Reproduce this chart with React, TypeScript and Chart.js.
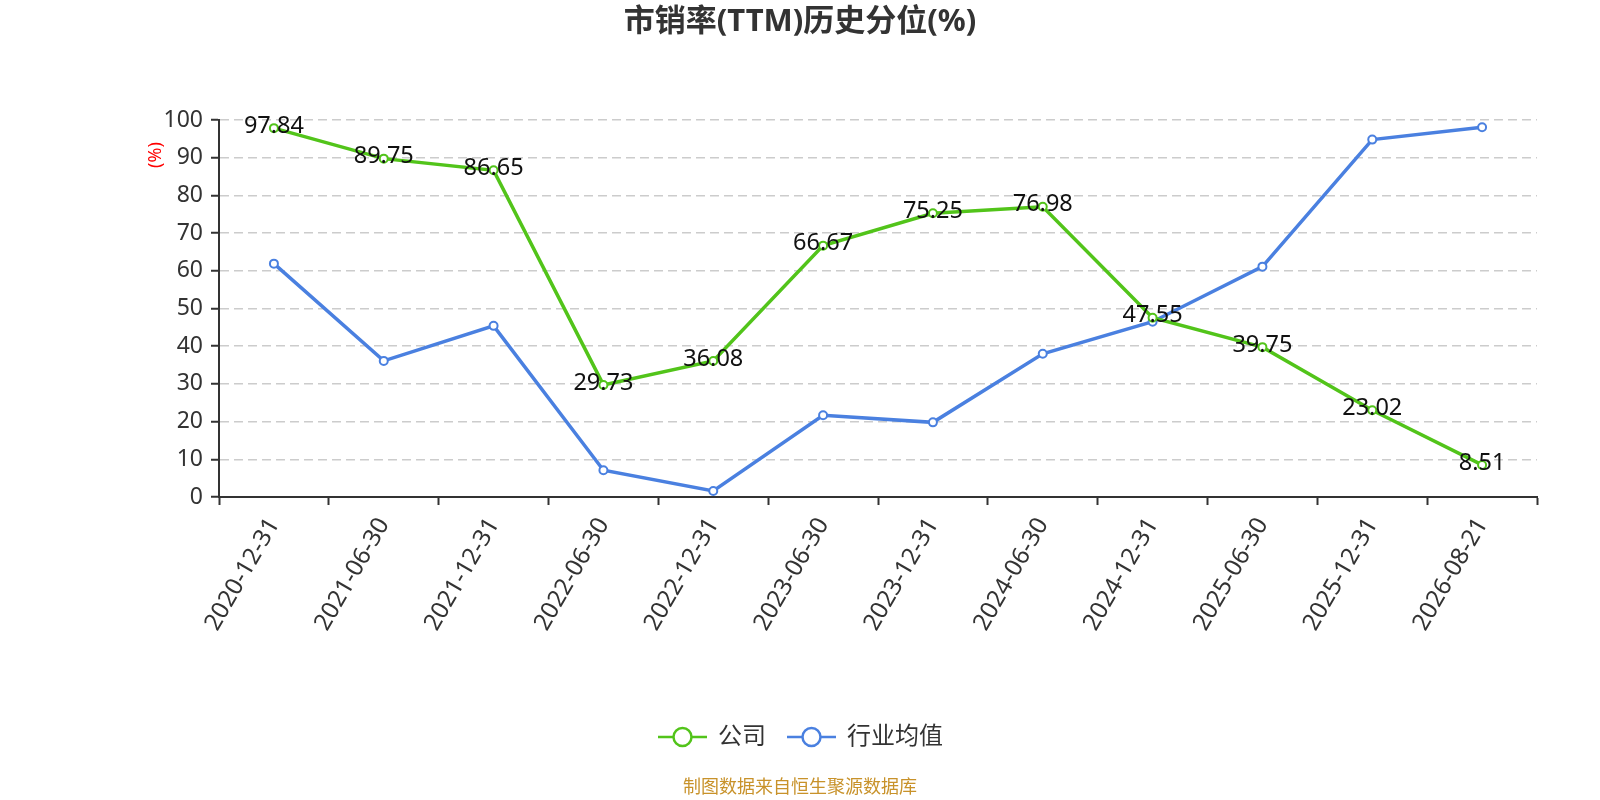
import React, { useEffect, useRef } from "react";
import { Chart, registerables } from "chart.js";

Chart.register(...registerables);

const categories = [
  "2020-12-31", "2021-06-30", "2021-12-31", "2022-06-30", "2022-12-31", "2023-06-30",
  "2023-12-31", "2024-06-30", "2024-12-31", "2025-06-30", "2025-12-31", "2026-08-21",
];
const companyValues = [97.84, 89.75, 86.65, 29.73, 36.08, 66.67, 75.25, 76.98, 47.55, 39.75, 23.02, 8.51];
const industryValues = [61.9, 36.1, 45.4, 7.1, 1.6, 21.7, 19.8, 38.0, 46.5, 61.1, 94.8, 98.1];
const seriesNames = ["公司", "行业均值"];
const titleText = "市销率(TTM)历史分位(%)";
const yAxisName = "(%)";
const sourceText = "制图数据来自恒生聚源数据库";

const GREEN = "#52c41a";
const BLUE = "#4a80e0";
const FONT = "'Noto Sans', 'Noto Sans CJK SC', sans-serif";

const decorPlugin = {
  id: "decor",
  afterDatasetsDraw(chart: any) {
    const ctx = chart.ctx;
    const meta = chart.getDatasetMeta(0);
    ctx.save();
    ctx.font = `23.5px ${FONT}`;
    ctx.fillStyle = "#111";
    ctx.textAlign = "center";
    ctx.textBaseline = "middle";
    meta.data.forEach((pt: any, i: number) => {
      ctx.fillText(companyValues[i].toFixed(2), pt.x, pt.y - 2);
    });
    ctx.restore();
  },
  afterDraw(chart: any) {
    const ctx = chart.ctx;
    ctx.save();
    // title
    ctx.font = `bold 31px ${FONT}`;
    ctx.fillStyle = "#333";
    ctx.textAlign = "center";
    ctx.textBaseline = "middle";
    ctx.fillText(titleText, 800, 22);
    // y axis name
    ctx.save();
    ctx.translate(156, 155);
    ctx.rotate(-Math.PI / 2);
    ctx.font = `18px ${FONT}`;
    ctx.fillStyle = "#ff0000";
    ctx.fillText(yAxisName, 0, 0);
    ctx.restore();
    // legend
    const items = [
      { name: seriesNames[0], color: GREEN, x: 658 },
      { name: seriesNames[1], color: BLUE, x: 787 },
    ];
    const ly = 737;
    items.forEach((it) => {
      ctx.strokeStyle = it.color;
      ctx.lineWidth = 2.5;
      ctx.beginPath();
      ctx.moveTo(it.x, ly);
      ctx.lineTo(it.x + 49, ly);
      ctx.stroke();
      ctx.beginPath();
      ctx.arc(it.x + 24.5, ly, 9, 0, Math.PI * 2);
      ctx.fillStyle = "#fff";
      ctx.fill();
      ctx.lineWidth = 2.5;
      ctx.stroke();
      ctx.font = `24px ${FONT}`;
      ctx.fillStyle = "#333";
      ctx.textAlign = "left";
      ctx.fillText(it.name, it.x + 60, ly);
    });
    // source
    ctx.font = `18px ${FONT}`;
    ctx.fillStyle = "#c8922a";
    ctx.textAlign = "center";
    ctx.fillText(sourceText, 800, 788);
    ctx.restore();
  },
};

export default function App() {
  const ref = useRef<HTMLCanvasElement>(null);
  useEffect(() => {
    if (!ref.current) return;
    const chart = new Chart(ref.current, {
      type: "line",
      data: {
        labels: categories,
        datasets: [
          {
            label: seriesNames[0],
            data: companyValues,
            borderColor: GREEN,
            backgroundColor: "#fff",
            borderWidth: 3.5,
            pointRadius: 4,
            pointBorderWidth: 2,
            pointBorderColor: GREEN,
            pointBackgroundColor: "#fff",
            tension: 0,
          },
          {
            label: seriesNames[1],
            data: industryValues,
            borderColor: BLUE,
            backgroundColor: "#fff",
            borderWidth: 3.5,
            pointRadius: 4,
            pointBorderWidth: 2,
            pointBorderColor: BLUE,
            pointBackgroundColor: "#fff",
            tension: 0,
          },
        ],
      },
      plugins: [decorPlugin],
      options: {
        animation: false,
        responsive: false,
        devicePixelRatio: 1,
        layout: { padding: { left: 139, right: 63, top: 120, bottom: 153 } },
        plugins: { legend: { display: false }, title: { display: false }, tooltip: { enabled: false } },
        scales: {
          x: {
            offset: true,
            grid: {
              offset: true,
              drawOnChartArea: false,
              drawTicks: true,
              tickLength: 8,
              tickColor: "#333",
              tickWidth: 2,
            },
            border: { color: "#333", width: 2 },
            ticks: {
              autoSkip: false,
              maxRotation: 60,
              minRotation: 60,
              padding: 8,
              color: "#333",
              font: { size: 24, family: FONT },
            },
            afterFit: (s: any) => { s.height = 150; },
          },
          y: {
            min: 0,
            max: 100,
            ticks: {
              stepSize: 10,
              padding: 8,
              color: "#333",
              font: { size: 23, family: FONT },
            },
            grid: {
              color: "#cccccc",
              lineWidth: 1.5,
              tickLength: 8,
              tickColor: "#333",
              tickWidth: 2,
              tickBorderDash: [],
            },
            border: { color: "#333", width: 2, dash: [9, 5] },
            afterFit: (s: any) => { s.width = 80; },
          },
        },
      },
    });
    return () => chart.destroy();
  }, []);
  return (
    <div style={{ position: "absolute", left: 0, top: 0, width: 1600, height: 800, background: "#fff" }}>
      <canvas ref={ref} width={1600} height={800} style={{ width: 1600, height: 800 }} />
    </div>
  );
}
